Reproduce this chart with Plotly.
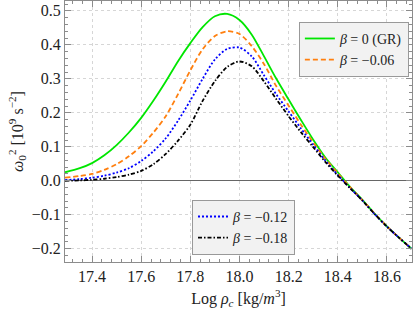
import plotly.graph_objects as go

log_rho = [17.29, 17.35, 17.4, 17.45, 17.5, 17.55, 17.6, 17.65, 17.7, 17.75, 17.8, 17.85, 17.9, 17.95,
           18.0, 18.05, 18.1, 18.15, 18.2, 18.25, 18.3, 18.35, 18.4, 18.45, 18.5, 18.55, 18.6, 18.65, 18.7]

w2_gr = [0.025, 0.037, 0.052, 0.075, 0.105, 0.142, 0.185, 0.236, 0.292, 0.352, 0.405, 0.452, 0.484, 0.491,
         0.473, 0.430, 0.366, 0.300, 0.239, 0.179, 0.121, 0.068, 0.025, -0.018, -0.056, -0.097, -0.134, -0.168, -0.200]
w2_b006 = [0.009, 0.014, 0.020, 0.032, 0.049, 0.072, 0.102, 0.142, 0.190, 0.255, 0.325, 0.387, 0.426, 0.440,
           0.432, 0.396, 0.343, 0.278, 0.221, 0.165, 0.113, 0.064, 0.022, -0.019, -0.057, -0.097, -0.134, -0.168, -0.200]
w2_b012 = [0.002, 0.005, 0.009, 0.015, 0.024, 0.037, 0.058, 0.087, 0.125, 0.177, 0.236, 0.300, 0.357, 0.388,
           0.392, 0.366, 0.310, 0.254, 0.204, 0.154, 0.106, 0.059, 0.017, -0.021, -0.058, -0.098, -0.135, -0.168, -0.200]
w2_b018 = [0.000, 0.001, 0.003, 0.006, 0.011, 0.018, 0.029, 0.049, 0.079, 0.118, 0.165, 0.235, 0.293, 0.335,
           0.351, 0.337, 0.292, 0.240, 0.190, 0.143, 0.099, 0.055, 0.015, -0.022, -0.058, -0.098, -0.135, -0.168, -0.200]

x_ticks = [17.4, 17.6, 17.8, 18.0, 18.2, 18.4, 18.6]
x_ticklabels = ["17.4", "17.6", "17.8", "18.0", "18.2", "18.4", "18.6"]
y_ticks = [-0.2, -0.1, 0.0, 0.1, 0.2, 0.3, 0.4, 0.5]
y_ticklabels = ["\u22120.2", "\u22120.1", "0.0", "0.1", "0.2", "0.3", "0.4", "0.5"]

series = [
    ("<i>β</i> = 0 (GR)", w2_gr, "#00e600", "solid", "legend"),
    ("<i>β</i> = \u22120.06", w2_b006, "#ff7f0e", "5px,3px", "legend"),
    ("<i>β</i> = \u22120.12", w2_b012, "#0000ff", "2px,2px", "legend2"),
    ("<i>β</i> = \u22120.18", w2_b018, "#000000", "4px,2px,1.5px,2px", "legend2"),
]

FONT = "Liberation Serif"
fig = go.Figure()
for name, ys, col, dash, lg in series:
    fig.add_trace(go.Scatter(x=log_rho, y=ys, mode="lines", name=name,
                             line=dict(color=col, width=1.8, dash=dash, shape="spline", smoothing=0.8),
                             legend=lg))

axis_common = dict(
    showline=True, linecolor="#8c8c8c", linewidth=1, mirror="allticks",
    ticks="inside", ticklen=6, tickcolor="#8c8c8c", tickwidth=1,
    showgrid=True, gridcolor="#d6d6d6", griddash="dot", gridwidth=1,
    tickfont=dict(family=FONT, size=16, color="#222222"),
)

fig.update_xaxes(range=[17.29, 18.702], tickvals=x_ticks, ticktext=x_ticklabels,
                 minor=dict(dtick=0.04, tick0=17.4, ticklen=3, tickcolor="#8c8c8c", ticks="inside", showgrid=False),
                 zeroline=False,
                 title=dict(text="Log <i>ρ</i><sub><i>c</i></sub> [kg/<i>m</i><sup>3</sup>]",
                            font=dict(family=FONT, size=16, color="#222222"), standoff=8),
                 **axis_common)
fig.update_yaxes(range=[-0.239, 0.529], tickvals=y_ticks, ticktext=y_ticklabels,
                 minor=dict(dtick=0.02, tick0=0, ticklen=3, tickcolor="#8c8c8c", ticks="inside", showgrid=False),
                 zeroline=True, zerolinecolor="#666666", zerolinewidth=1,
                 title=dict(text="<i>ω</i><sub>0</sub><sup>2</sup> [10<sup>9</sup> s<sup>\u22122</sup>]",
                            font=dict(family=FONT, size=16, color="#222222"), standoff=4),
                 **axis_common)

legend_common = dict(bgcolor="#f2f2f2", bordercolor="#999999", borderwidth=1,
                     font=dict(family=FONT, size=14, color="#222222"),
                     tracegroupgap=0, itemwidth=30)

fig.update_layout(
    width=413, height=315,
    margin=dict(l=65, r=1, t=1, b=53),
    plot_bgcolor="white", paper_bgcolor="white",
    legend=dict(x=0.991, y=0.92, xanchor="right", yanchor="top", **legend_common),
    legend2=dict(x=0.366, y=0.238, xanchor="left", yanchor="top", **legend_common),
    showlegend=True,
)

fig.write_html("out.html", config={"displayModeBar": False})

# remove the default page margin so the figure sits at the window's top-left corner
with open("out.html", "r", encoding="utf-8") as f:
    html = f.read()
html = html.replace("<head>", "<head><style>html,body{margin:0;padding:0;overflow:hidden;}</style>", 1)
with open("out.html", "w", encoding="utf-8") as f:
    f.write(html)
